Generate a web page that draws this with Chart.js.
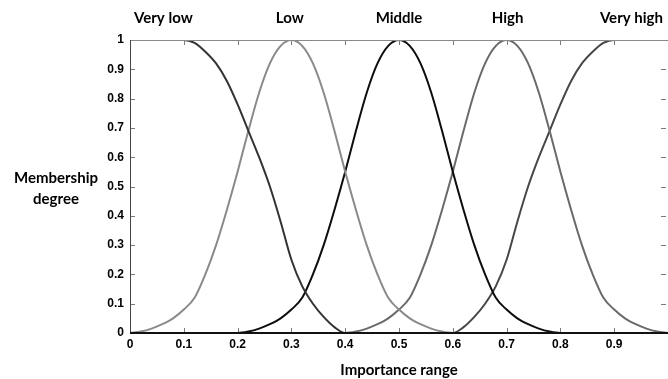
<!DOCTYPE html>
<html>
<head>
<meta charset="utf-8">
<script src="https://cdn.jsdelivr.net/npm/chart.js@4/dist/chart.umd.min.js"></script>
<style>
  html, body { margin: 0; padding: 0; background: #fff; }
  #wrap { width: 668px; height: 379px; }
</style>
</head>
<body>
<div id="wrap"><canvas id="mf" width="668" height="379"></canvas></div>
<script>
// sample points along the importance range
const xs = [0, 0.02, 0.04, 0.06, 0.08, 0.1, 0.12, 0.14, 0.16, 0.18,
  0.2, 0.22, 0.24, 0.26, 0.28, 0.3, 0.32, 0.34, 0.36, 0.38,
  0.4, 0.42, 0.44, 0.46, 0.48, 0.5, 0.52, 0.54, 0.56, 0.58,
  0.6, 0.62, 0.64, 0.66, 0.68, 0.7, 0.72, 0.74, 0.76, 0.78,
  0.8, 0.82, 0.84, 0.86, 0.88, 0.9, 0.92, 0.94, 0.96, 0.98, 1];

// membership degrees
const veryLow = [1, 1, 1, 1, 1, 1, 0.99, 0.96, 0.92, 0.86,
  0.78, 0.69, 0.6, 0.5, 0.38, 0.25, 0.16, 0.1, 0.055, 0.02,
  0, 0, 0, 0, 0, 0, 0, 0, 0, 0,
  0, 0, 0, 0, 0, 0, 0, 0, 0, 0,
  0, 0, 0, 0, 0, 0, 0, 0, 0, 0, 0];
const low = [0, 0.005, 0.015, 0.03, 0.05, 0.08, 0.12, 0.2, 0.3, 0.42,
  0.55, 0.69, 0.82, 0.92, 0.98, 1, 0.98, 0.92, 0.82, 0.69,
  0.55, 0.42, 0.3, 0.2, 0.12, 0.08, 0.05, 0.03, 0.015, 0.005,
  0, 0, 0, 0, 0, 0, 0, 0, 0, 0,
  0, 0, 0, 0, 0, 0, 0, 0, 0, 0, 0];
const middle = [0, 0, 0, 0, 0, 0, 0, 0, 0, 0,
  0, 0.005, 0.015, 0.03, 0.05, 0.08, 0.12, 0.2, 0.3, 0.42,
  0.55, 0.69, 0.82, 0.92, 0.98, 1, 0.98, 0.92, 0.82, 0.69,
  0.55, 0.42, 0.3, 0.2, 0.12, 0.08, 0.05, 0.03, 0.015, 0.005,
  0, 0, 0, 0, 0, 0, 0, 0, 0, 0, 0];
const high = [0, 0, 0, 0, 0, 0, 0, 0, 0, 0,
  0, 0, 0, 0, 0, 0, 0, 0, 0, 0,
  0, 0.005, 0.015, 0.03, 0.05, 0.08, 0.12, 0.2, 0.3, 0.42,
  0.55, 0.69, 0.82, 0.92, 0.98, 1, 0.98, 0.92, 0.82, 0.69,
  0.55, 0.42, 0.3, 0.2, 0.12, 0.08, 0.05, 0.03, 0.015, 0.005, 0];
const veryHigh = [0, 0, 0, 0, 0, 0, 0, 0, 0, 0,
  0, 0, 0, 0, 0, 0, 0, 0, 0, 0,
  0, 0, 0, 0, 0, 0, 0, 0, 0, 0,
  0, 0.02, 0.055, 0.1, 0.16, 0.25, 0.38, 0.5, 0.6, 0.69,
  0.78, 0.86, 0.92, 0.96, 0.99, 1, 1, 1, 1, 1, 1];

const classNames = ['Very low', 'Low', 'Middle', 'High', 'Very high'];
const classPos = [0.062, 0.297, 0.5, 0.702, 0.932];
const classColors = ['#333333', '#8a8a8a', '#0d0d0d', '#6a6a6a', '#474747'];

const xTicks = [0, 0.1, 0.2, 0.3, 0.4, 0.5, 0.6, 0.7, 0.8, 0.9, 1];
const xTickLabels = ['0', '0.1', '0.2', '0.3', '0.4', '0.5', '0.6', '0.7', '0.8', '0.9', ''];
const yTicks = [0, 0.1, 0.2, 0.3, 0.4, 0.5, 0.6, 0.7, 0.8, 0.9, 1];
const yTickLabels = ['0', '0.1', '0.2', '0.3', '0.4', '0.5', '0.6', '0.7', '0.8', '0.9', '1'];

const series = [veryLow, low, middle, high, veryHigh];

const tickFont = { family: '"Liberation Sans Narrow", "Liberation Sans", sans-serif', size: 12, weight: 'bold' };
const titleFont = { family: 'Lato, "Open Sans", sans-serif', size: 15, weight: 'bold' };

// keep the plot running right up to the canvas edge
function noSidePadding(s) {
  s.paddingLeft = 0;
  s.paddingRight = 0;
}

// box, inward tick marks and the horizontal y title
const frame = {
  id: 'frame',
  afterDatasetsDraw(chart) {
    const { ctx, chartArea: a, scales } = chart;
    ctx.save();
    ctx.lineWidth = 1;
    ctx.strokeStyle = '#7a7a7a';
    xTicks.forEach(v => {
      const px = Math.round(scales.x.getPixelForValue(v)) + 0.5;
      ctx.beginPath();
      ctx.moveTo(px, a.bottom); ctx.lineTo(px, a.bottom - 5);
      ctx.moveTo(px, a.top); ctx.lineTo(px, a.top + 5);
      ctx.stroke();
    });
    yTicks.forEach(v => {
      const py = Math.round(scales.y.getPixelForValue(v)) + 0.5;
      ctx.beginPath();
      ctx.moveTo(a.left, py); ctx.lineTo(a.left + 5, py);
      ctx.moveTo(a.right - 2, py); ctx.lineTo(a.right - 7, py);
      ctx.stroke();
    });
    ctx.strokeStyle = '#8a8a8a';
    ctx.beginPath();
    ctx.moveTo(a.left, a.top + 0.5); ctx.lineTo(a.right, a.top + 0.5);
    ctx.stroke();
    ctx.strokeStyle = '#444';
    ctx.beginPath();
    ctx.moveTo(a.left + 0.5, a.top); ctx.lineTo(a.left + 0.5, a.bottom);
    ctx.stroke();
    ctx.strokeStyle = '#111';
    ctx.lineWidth = 2;
    ctx.beginPath();
    ctx.moveTo(a.left, a.bottom); ctx.lineTo(a.right, a.bottom);
    ctx.stroke();

    ctx.fillStyle = '#000';
    ctx.font = 'bold 15px Lato, "Open Sans", sans-serif';
    ctx.textAlign = 'center';
    ctx.textBaseline = 'middle';
    ctx.fillText('Membership', 56, 178);
    ctx.fillText('degree', 56, 199);
    ctx.restore();
  }
};

new Chart(document.getElementById('mf'), {
  type: 'line',
  data: {
    datasets: classNames.map((name, i) => ({
      label: name,
      data: xs.map((x, j) => ({ x: x, y: series[i][j] })),
      borderColor: classColors[i],
      borderWidth: 2,
      pointRadius: 0,
      cubicInterpolationMode: 'monotone',
      fill: false
    }))
  },
  options: {
    responsive: false,
    animation: false,
    devicePixelRatio: 1,
    layout: { padding: 0 },
    plugins: { legend: { display: false }, tooltip: { enabled: false } },
    scales: {
      x: {
        type: 'linear', position: 'bottom', min: 0, max: 1,
        afterBuildTicks: s => { s.ticks = xTicks.map(v => ({ value: v })); },
        afterFit: s => { s.height = 46; noSidePadding(s); },
        ticks: {
          autoSkip: false, maxRotation: 0, padding: 4, color: '#000', font: tickFont,
          callback: (v, i) => xTickLabels[i]
        },
        grid: { display: false, drawTicks: false },
        border: { display: false },
        title: { display: true, text: 'Importance range', color: '#000', font: titleFont, padding: { top: 8, bottom: 0 } }
      },
      xTop: {
        type: 'linear', position: 'top', min: 0, max: 1,
        afterBuildTicks: s => { s.ticks = classPos.map(v => ({ value: v })); },
        afterFit: s => { s.height = 40; noSidePadding(s); },
        ticks: {
          autoSkip: false, maxRotation: 0, padding: 13, color: '#000', font: titleFont,
          callback: (v, i) => classNames[i]
        },
        grid: { display: false, drawTicks: false },
        border: { display: false }
      },
      y: {
        type: 'linear', min: 0, max: 1,
        afterBuildTicks: s => { s.ticks = yTicks.map(v => ({ value: v })); },
        afterFit: s => { s.width = 130; s.paddingTop = 0; s.paddingBottom = 0; },
        ticks: {
          autoSkip: false, padding: 6, color: '#000', font: tickFont,
          callback: (v, i) => yTickLabels[i]
        },
        grid: { display: false, drawTicks: false },
        border: { display: false }
      }
    }
  },
  plugins: [frame]
});
</script>
</body>
</html>
